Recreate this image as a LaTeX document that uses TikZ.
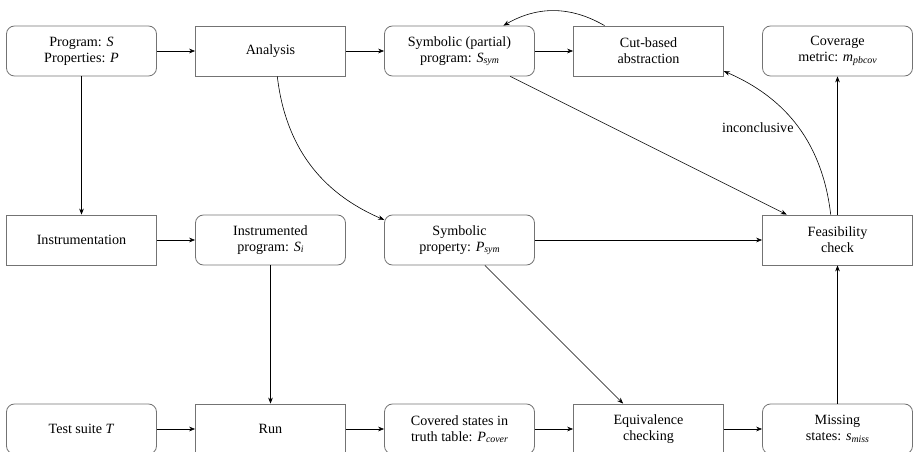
\documentclass[tikz,border=0pt]{standalone}
\usepackage{fontspec}
\setmainfont{Liberation Serif}
\newfontfamily\tnr{Liberation Serif}
\usetikzlibrary{arrows.meta}
\newcommand\vsub[2]{\textit{#1}\raisebox{-0.25ex}{\fontsize{7.4}{8}\selectfont\textit{#2}}}
\tikzset{
  txt/.style={font=\tnr\fontsize{10.6}{12}\selectfont},
  boxbase/.style={txt, draw=black!55, line width=0.6pt, minimum width=112.5pt, minimum height=37.5pt, align=center, inner sep=2pt},
  rbox/.style={boxbase, rounded corners=6pt},
  sbox/.style={boxbase},
  arr/.style={-{Stealth[length=4.5pt,width=3.5pt]}, line width=0.45pt, black},
}
\begin{document}
\begin{tikzpicture}[x=0.75pt,y=-0.75pt]
\useasboundingbox (0,0) rectangle (914,452);
% row 1
\node[rbox] (prog) at (81.5,51) {Program: \textit{S}\\Properties: \textit{P}};
\node[sbox] (ana) at (270.5,51) {Analysis};
\node[rbox] (symprog) at (459.5,51) {Symbolic (partial)\\program: \vsub{S}{sym}};
\node[sbox] (cut) at (648.5,51) {Cut-based\\abstraction};
\node[rbox] (cov) at (837.5,51) {Coverage\\metric: \vsub{m}{pbcov}};
% row 2
\node[sbox] (inst) at (81.5,240) {Instrumentation};
\node[rbox] (instprog) at (270.5,240) {Instrumented\\program: \vsub{S}{i}};
\node[rbox] (symprop) at (459.5,240) {Symbolic\\property: \vsub{P}{sym}};
\node[sbox] (feas) at (837.5,240) {Feasibility\\check};
% row 3
\node[rbox] (test) at (81.5,429) {Test suite \textit{T}};
\node[sbox] (run) at (270.5,429) {Run};
\node[rbox] (covered) at (459.5,429) {Covered states in\\truth table: \vsub{P}{cover}};
\node[sbox] (equiv) at (648.5,429) {Equivalence\\checking};
\node[rbox] (miss) at (837.5,429) {Missing\\states: \vsub{s}{miss}};
% edges
\draw[arr] (prog) -- (ana);
\draw[arr] (ana) -- (symprog);
\draw[arr] (symprog) -- (cut);
\draw[arr] (cut) to[bend right] (symprog);
\draw[arr] (prog) -- (inst);
\draw[arr] (inst) -- (instprog);
\draw[arr] (instprog) -- (run);
\draw[arr] (test) -- (run);
\draw[arr] (run) -- (covered);
\draw[arr] (covered) -- (equiv);
\draw[arr] (equiv) -- (miss);
\draw[arr] (miss) -- (feas);
\draw[arr] (feas) -- (cov);
\draw[arr] (feas) to[bend right] node[midway,left,txt] {inconclusive} (cut);
\draw[arr] (ana) to[bend right] (symprop);
\draw[arr] (symprog) -- (feas);
\draw[arr] (symprop) -- (feas);
\draw[arr] (symprop) -- (equiv);
\end{tikzpicture}
\end{document}
